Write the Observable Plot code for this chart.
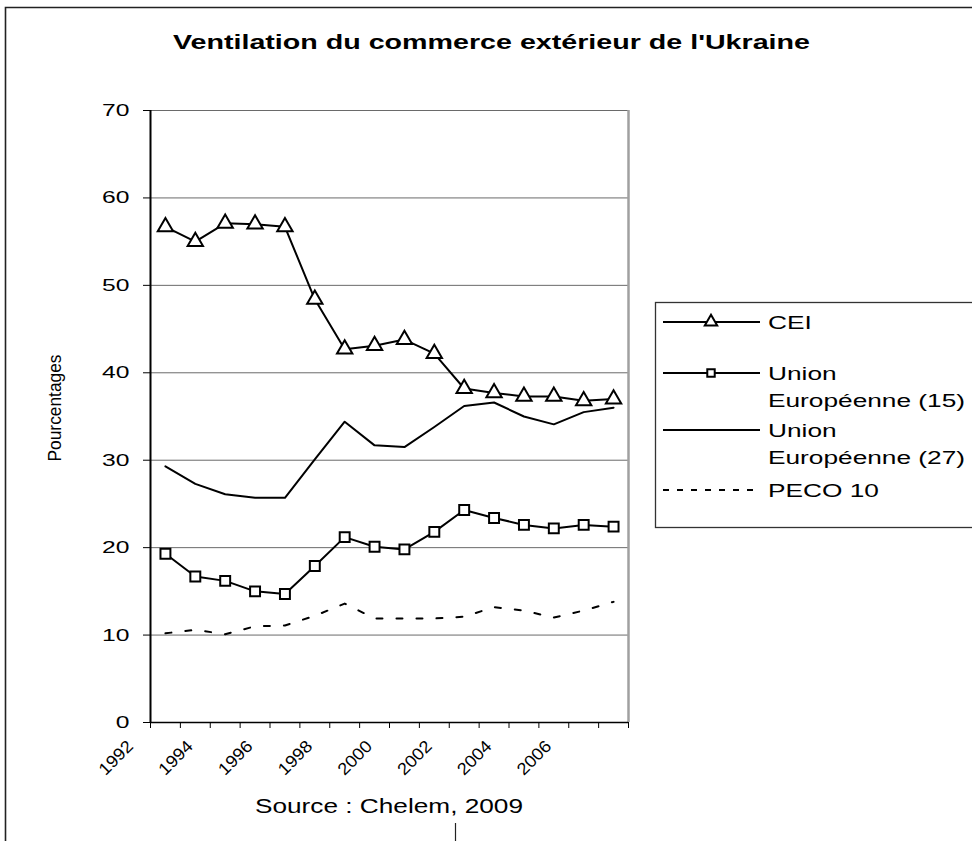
<!DOCTYPE html>
<html><head><meta charset="utf-8">
<script src="https://cdn.jsdelivr.net/npm/d3@7"></script>
<script src="https://cdn.jsdelivr.net/npm/@observablehq/plot@0.6"></script>
<style>
body{margin:0;background:#fff;}
#wrap{position:relative;width:972px;height:841px;overflow:hidden;background:#fff;font-family:"Liberation Sans",Arial,sans-serif;}
#chart{position:absolute;left:0;top:0;}
#overlay{position:absolute;left:0;top:0;}
</style></head><body>
<div id="wrap"><div id="chart"></div><svg id="overlay" width="972" height="841"></svg></div>
<script>
// ---- data ----
const years = [1992,1993,1994,1995,1996,1997,1998,1999,2000,2001,2002,2003,2004,2005,2006,2007];
const cei    = [56.7,55.0,57.1,57.0,56.7,48.4,42.7,43.1,43.8,42.2,38.2,37.7,37.3,37.3,36.8,37.0];
const ue15   = [19.3,16.7,16.2,15.0,14.7,17.9,21.2,20.1,19.8,21.8,24.3,23.4,22.6,22.2,22.6,22.4];
const ue27   = [29.3,27.3,26.1,25.7,25.7,30.1,34.4,31.7,31.5,33.8,36.2,36.6,35.0,34.1,35.5,36.0];
const peco10 = [10.2,10.6,10.1,11.0,11.1,12.2,13.6,11.9,11.9,11.9,12.1,13.2,12.8,12.0,12.8,13.8];
const xTickLabels = ["1992","1994","1996","1998","2000","2002","2004","2006"];
const yTicks = [0,10,20,30,40,50,60,70];
const seriesLegend = [["CEI"],["Union","Européenne (15)"],["Union","Européenne (27)"],["PECO 10"]];
const titleText = "Ventilation du commerce extérieur de l'Ukraine";
const yLabelText = "Pourcentages";
const sourceText = "Source : Chelem, 2009";

const rows = arr => years.map((y,i)=>({year:y, value:arr[i]}));
const xDomain = [years[0]-0.5, years[years.length-1]+0.5];
const bandEdges = d3.range(xDomain[0], xDomain[1]+0.01, 1);
const FONT = "Liberation Sans, Arial, sans-serif";

const plot = Plot.plot({
  width: 640, height: 792,
  marginLeft: 150, marginRight: 12, marginTop: 110, marginBottom: 70,
  style: {fontFamily: FONT, fontSize: "17px", color: "#000", background: "transparent", overflow: "visible"},
  x: {type: "linear", domain: xDomain},
  y: {domain: [0, 70]},
  marks: [
    Plot.ruleY(yTicks.filter(d => d > 0), {stroke: "#6a6a6a", strokeWidth: 1}),
    Plot.ruleX([xDomain[1]], {stroke: "#a0a0a0", strokeWidth: 2.5}),
    Plot.axisY({ticks: yTicks, tickSize: 7, tickPadding: 14, tickFormat: d => String(d), label: null, fontSize: 17}),
    Plot.axisX({ticks: bandEdges, tickSize: 6, tickFormat: () => "", label: null}),
    Plot.axisX({ticks: xTickLabels.map(Number), tickSize: 0, tickPadding: 3, tickRotate: -45,
      textAnchor: "end", lineAnchor: "middle", tickFormat: d => String(d), label: null,
      dx: -35, dy: 18, fontSize: 17}),
    Plot.ruleX([xDomain[0]], {stroke: "#000", strokeWidth: 2}),
    Plot.ruleY([0], {stroke: "#000", strokeWidth: 1.5}),
    Plot.line(rows(peco10), {x: "year", y: "value", stroke: "#000", strokeWidth: 2, strokeDasharray: "6,14"}),
    Plot.line(rows(ue27), {x: "year", y: "value", stroke: "#000", strokeWidth: 2}),
    Plot.line(rows(ue15), {x: "year", y: "value", stroke: "#000", strokeWidth: 2}),
    Plot.dot(rows(ue15), {x: "year", y: "value", symbol: "square", r: 5.6, fill: "#fff", stroke: "#000", strokeWidth: 2}),
    Plot.line(rows(cei), {x: "year", y: "value", stroke: "#000", strokeWidth: 2}),
    Plot.dot(rows(cei), {x: "year", y: "value", symbol: "triangle", r: 5.7, fill: "#fff", stroke: "#000", strokeWidth: 2})
  ]
});
document.getElementById("chart").appendChild(plot);

// stretch tick labels horizontally (wide Excel-style rendering)
function stretch(sel, factor) {
  sel.each(function() {
    const w = this.getComputedTextLength();
    if (w > 0) { this.setAttribute("textLength", w * factor); this.setAttribute("lengthAdjust", "spacingAndGlyphs"); }
  });
}
stretch(d3.select(plot).selectAll('g[aria-label="y-axis tick label"] text'), 1.45);
stretch(d3.select(plot).selectAll('g[aria-label="x-axis tick label"] text'), 1.08);

// ---- overlay: frame, title, y label, legend, source ----
const ov = d3.select("#overlay");
ov.append("path").attr("d", "M5.5,841 V7.5 H972").attr("fill", "none").attr("stroke", "#222").attr("stroke-width", 1.6);
ov.append("path").attr("d", "M455.5,823 V841").attr("fill", "none").attr("stroke", "#222").attr("stroke-width", 1.2);

ov.append("text").text(titleText).attr("x", 173).attr("y", 49)
  .attr("font-family", FONT).attr("font-weight", "bold").attr("font-size", 20)
  .attr("textLength", 637).attr("lengthAdjust", "spacingAndGlyphs");

ov.append("text").text(yLabelText).attr("transform", "translate(61,408) rotate(-90)")
  .attr("text-anchor", "middle").attr("font-family", FONT).attr("font-size", 19)
  .attr("textLength", 107).attr("lengthAdjust", "spacingAndGlyphs");

ov.append("text").text(sourceText).attr("x", 255).attr("y", 813)
  .attr("font-family", FONT).attr("font-size", 20)
  .attr("textLength", 268).attr("lengthAdjust", "spacingAndGlyphs");

// legend
ov.append("rect").attr("x", 655.5).attr("y", 302.5).attr("width", 400).attr("height", 225)
  .attr("fill", "none").attr("stroke", "#333").attr("stroke-width", 1.3);
const legLineY = [322, 373, 430, 490];
const legStyles = [
  {dash: null, sym: d3.symbolTriangle, size: Math.PI * 4.6 * 4.6},
  {dash: null, sym: d3.symbolSquare, size: Math.PI * 4.2 * 4.2},
  {dash: null, sym: null},
  {dash: "6,8", sym: null}
];
const legTexts = [];
seriesLegend.forEach((lines, i) => {
  const y = legLineY[i], st = legStyles[i];
  const ln = ov.append("line").attr("x1", 663).attr("x2", 760).attr("y1", y).attr("y2", y)
    .attr("stroke", "#000").attr("stroke-width", 2);
  if (st.dash) ln.attr("stroke-dasharray", st.dash);
  if (st.sym) ov.append("path").attr("d", d3.symbol(st.sym, st.size)()).attr("transform", `translate(711,${y})`)
    .attr("fill", "#fff").attr("stroke", "#000").attr("stroke-width", 2);
  lines.forEach((t, j) => {
    legTexts.push(ov.append("text").text(t).attr("x", 768).attr("y", y + 6.5 + j * 27)
      .attr("font-family", FONT).attr("font-size", 18).node());
  });
});
const refNode = legTexts.find(n => n.textContent === "Européenne (15)");
const legFactor = 197 / refNode.getComputedTextLength();
legTexts.forEach(n => { n.setAttribute("textLength", n.getComputedTextLength() * legFactor); n.setAttribute("lengthAdjust", "spacingAndGlyphs"); });
</script>
</body></html>
